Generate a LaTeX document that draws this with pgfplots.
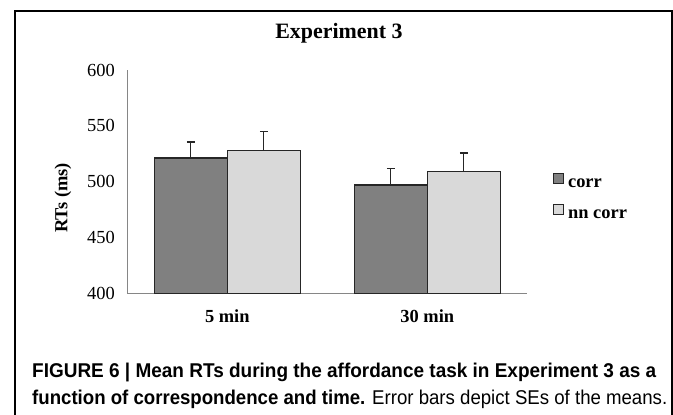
\documentclass[border=0pt]{standalone}
\usepackage{pgfplots}
\pgfplotsset{compat=1.18}
\usepackage{fontspec}
\setmainfont{Liberation Serif}
\newfontfamily\capfont{Liberation Sans}
\usepackage{graphicx}

\definecolor{barA}{HTML}{808080}
\definecolor{barB}{HTML}{D9D9D9}
\definecolor{edge}{HTML}{262626}
\definecolor{axgray}{HTML}{868686}

\pgfplotsset{sqlegend/.style={legend image code/.code={\draw[##1,/tikz/.cd,line width=1bp] (0bp,0bp) rectangle (10bp,10bp);}}}

\begin{document}
\begin{tikzpicture}
\path[use as bounding box] (0bp,0bp) rectangle (673bp,-415bp);
\draw[line width=2.5bp, black] (15bp,-420bp) -- (15bp,-11bp) -- (672bp,-11bp) -- (672bp,-420bp);
\begin{axis}[
  at={(127.3bp,-293.3bp)}, anchor=south west,
  scale only axis, width=400bp, height=223.3bp,
  xmin=-0.5, xmax=1.5, ymin=400, ymax=600,
  ytick={400,450,500,550,600},
  xtick={0,1}, xticklabels={5 min,30 min},
  major tick length=0pt,
  axis x line*=bottom, axis y line*=left,
  axis line style={draw=axgray, line width=1bp, -},
  ybar=0pt, bar width=73bp,
  /pgf/number format/assume math mode=true,
  yticklabel style={font=\fontsize{18.5}{21}\selectfont, xshift=-9bp},
  xticklabel style={font=\bfseries\fontsize{18.5}{21}\selectfont, yshift=-13bp},
  title={Experiment 3},
  title style={font=\bfseries\fontsize{22}{26}\selectfont, at={(0.529,1.14)}, anchor=center},
  ylabel={RTs (ms)},
  ylabel style={font=\bfseries\fontsize{18.5}{21}\selectfont, at={(-0.161,0.427)}, anchor=center},
  legend style={draw=none, fill=none, at={(1.064,0.429)}, anchor=west,
    font=\bfseries\fontsize{18.5}{21}\selectfont, row sep=13bp, inner sep=0pt, column sep=4bp,
    nodes={inner sep=0pt, text height=12bp, text depth=4bp}},
  legend cell align=left,
  every axis plot post/.append style={sqlegend},
  error bars/y dir=plus, error bars/y explicit,
  error bars/error bar style={line width=1.3bp, draw=edge},
  error bars/error mark options={line width=1.3bp, draw=edge, mark size=4bp, rotate=90},
]
\addplot[fill=barA, draw=edge, line width=1.5bp] coordinates {(0,521) +- (0,14.5) (1,497.2) +- (0,14.4)};
\addplot[fill=barB, draw=edge, line width=1.5bp] coordinates {(0,527.7) +- (0,17.4) (1,508.9) +- (0,16.7)};
\legend{corr, nn corr}
\end{axis}
\node[anchor=base west, inner sep=0pt] at (32bp,-377.5bp) {\resizebox{624bp}{\height}{\capfont\fontsize{20}{24}\selectfont\bfseries FIGURE 6 | Mean RTs during the affordance task in Experiment 3 as a}};
\node[anchor=base west, inner sep=0pt] at (32bp,-404.5bp) {\resizebox{635bp}{\height}{\capfont\fontsize{20}{24}\selectfont\textbf{function of correspondence and time.} Error bars depict SEs of the means.}};
\end{tikzpicture}
\end{document}
